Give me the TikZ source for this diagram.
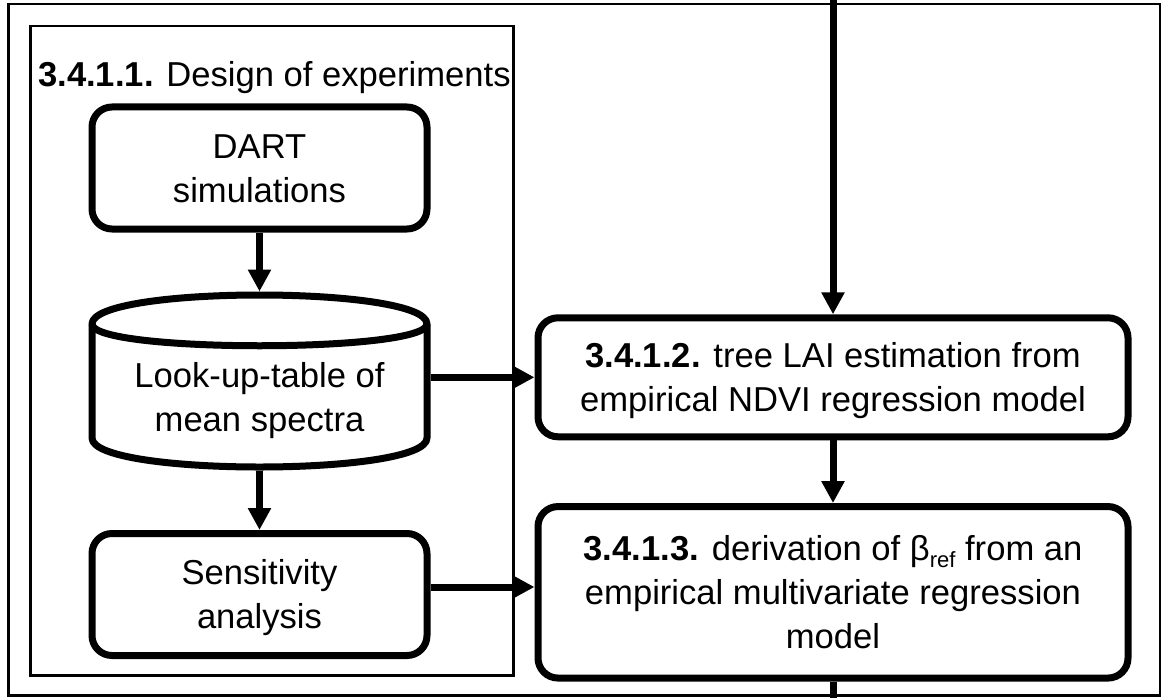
\documentclass[tikz,border=0pt]{standalone}
\usepackage{fontspec}
\setmainfont{Liberation Sans}
\usetikzlibrary{arrows.meta,calc}
\newcommand\mystrut{\rule[-9.6pt]{0pt}{44pt}}
\newcommand\boxfont{\fontsize{34.6}{44}\selectfont}
\begin{document}
\begin{tikzpicture}[x=1pt,y=-1pt,
  frame/.style={draw,line width=2.5pt,inner sep=0pt,anchor=north west},
  box/.style={draw,line width=7pt,rounded corners=20pt,inner sep=0pt,align=center,font=\boxfont},
  cylbox/.style={inner sep=0pt,outer sep=0pt,minimum width=335pt,minimum height=172pt},
  txt/.style={inner sep=0pt,align=center,font=\boxfont},
  arr/.style={line width=7pt,-{Triangle[length=22pt,width=22pt]}},
  conn/.style={line width=7pt}]
\useasboundingbox (0,0) rectangle (1161,698);
% frames
\node[frame,minimum width=1152pt,minimum height=691pt] (outer) at (7,3) {};
\node[frame,minimum width=483pt,minimum height=649pt] (group) at (29,25) {};
\node[anchor=base west,inner sep=0pt,font=\boxfont] (title) at (38,87) {\textbf{3.4.1.1.} Design of experiments};
% left column
\node[box,minimum width=335pt,minimum height=122pt] (dart) at (259.5,168) {\mystrut DART\\\mystrut simulations};
\node[cylbox] (lut) at (259.5,381) {};
\draw[conn,line join=round]
  ($(lut.north west)+(0,29)$) .. controls ($(lut.north west)+(0,-9.67)$) and ($(lut.north east)+(0,-9.67)$) .. ($(lut.north east)+(0,29)$)
  -- ($(lut.south east)+(0,-29)$) .. controls ($(lut.south east)+(0,9.67)$) and ($(lut.south west)+(0,9.67)$) .. ($(lut.south west)+(0,-29)$)
  -- cycle;
\draw[conn] ($(lut.north west)+(0,29)$) .. controls ($(lut.north west)+(0,58)$) and ($(lut.north east)+(0,58)$) .. ($(lut.north east)+(0,29)$);
\node[txt] (luttext) at (259.5,396.6) {\mystrut Look-up-table of\\\mystrut mean spectra};
\node[box,minimum width=335pt,minimum height=122pt] (sens) at (259.5,594.5) {\mystrut Sensitivity\\\mystrut analysis};
% right column
\node[box,minimum width=590pt,minimum height=119pt] (s2) at (833,377.3) {\mystrut\textbf{3.4.1.2.} tree LAI estimation from\\\mystrut empirical NDVI regression model};
\node[box,minimum width=590pt,minimum height=171.5pt] (s3) at (833,592.3) {\mystrut\textbf{3.4.1.3.} derivation of β\raisebox{-7pt}{\fontsize{22}{22}\selectfont ref} from an\\\mystrut empirical multivariate regression\\\mystrut model};
\coordinate (topin) at (833,0);
\coordinate (botout) at (833,698);
% connectors
\draw[arr] (dart.south) -- ([yshift=3.5pt]lut.north);
\draw[arr] ([yshift=-3.5pt]lut.south) -- (sens.north);
\draw[arr] ([xshift=3.5pt]lut.east |- s2.west) -- (s2.west);
\draw[arr] ([yshift=7.5pt]sens.east) -- ([yshift=7.5pt]sens.east -| s3.west);
\draw[arr] (topin) -- (s2.north);
\draw[arr] (s2.south) -- (s3.north);
\draw[conn] (s3.south) -- (botout);
\end{tikzpicture}
\end{document}
